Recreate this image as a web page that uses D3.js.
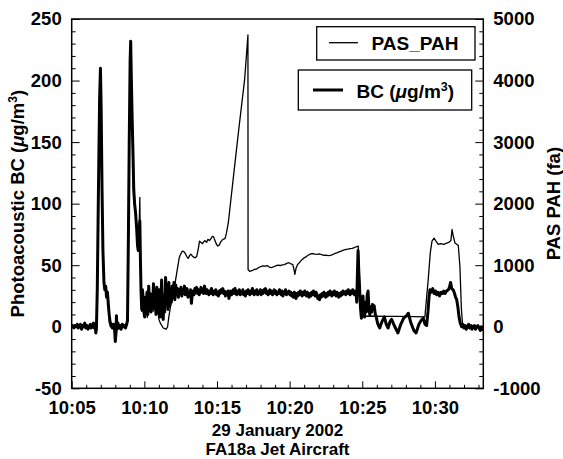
<!DOCTYPE html>
<html>
<head>
<meta charset="utf-8">
<script src="https://cdn.jsdelivr.net/npm/d3@7"></script>
<style>
  html, body { margin: 0; padding: 0; background: #fff; }
  svg { display: block; font-family: "Liberation Sans", Arial, Helvetica, sans-serif; font-weight: bold; }
</style>
</head>
<body>
<svg id="chart" width="563" height="459"></svg>
<script>
// Time is in minutes past 10:00 on 29 January 2002.
const xTickMinutes = [5, 10, 15, 20, 25, 30];
const xTickLabels = ["10:05", "10:10", "10:15", "10:20", "10:25", "10:30"];
const leftTicks = [-50, 0, 50, 100, 150, 200, 250];
const rightTicks = [-1000, 0, 1000, 2000, 3000, 4000, 5000];

// Photoacoustic black carbon, µg/m3: [minute, value]
const bcSeries = [
  [5.00,0],[5.08,1],[5.15,-1],[5.22,1],[5.30,0],[5.38,2],[5.45,-1],[5.52,0],[5.60,2],[5.68,-2],
  [5.75,1],[5.82,0],[5.90,3],[5.97,-1],[6.05,1],[6.12,-2],[6.20,0],[6.28,2],[6.35,-1],[6.42,1],
  [6.50,3],[6.56,-1],[6.62,1],[6.66,-5],[6.70,-2],[6.76,30],[6.84,110],[6.92,185],[6.98,210],
  [7.03,175],[7.09,110],[7.15,62],[7.22,36],[7.28,30],[7.34,33],[7.40,24],[7.46,28],[7.52,18],
  [7.58,10],[7.64,4],[7.72,2],[7.80,-1],[7.88,2],[7.95,-2],[8.00,-12],[8.05,-5],[8.08,9],[8.12,-2],
  [8.18,3],[8.25,-1],[8.32,1],[8.40,-2],[8.48,2],[8.55,0],[8.62,1],[8.70,-1],[8.78,2],[8.84,5],
  [8.90,70],[8.96,150],[9.02,215],[9.06,232],[9.10,205],[9.16,170],[9.22,140],[9.27,112],[9.33,100],
  [9.40,92],[9.47,80],[9.53,66],[9.58,62],[9.64,75],[9.69,86],[9.73,55],[9.77,30],[9.82,14],
  [9.87,30],[9.93,22],[9.97,12],[10.02,8],[10.07,24],[10.12,15],[10.18,28],[10.24,10],[10.30,33],
  [10.35,18],[10.40,27],[10.46,12],[10.52,25],[10.58,20],[10.63,35],[10.69,15],[10.75,28],[10.80,10],
  [10.86,32],[10.92,20],[10.97,11],[11.02,30],[11.08,8],[11.14,22],[11.19,38],[11.24,10],[11.30,6],
  [11.35,26],[11.40,12],[11.46,40],[11.52,22],[11.58,30],[11.63,14],[11.69,36],[11.75,17],[11.80,28],
  [11.86,20],[11.92,33],[11.98,24],[12.04,36],[12.10,22],[12.16,34],[12.22,26],[12.28,31],[12.34,24],
  [12.40,30],[12.46,27],[12.52,32],[12.58,25],[12.64,30],[12.70,27],[12.76,33],[12.82,26],[12.88,29],
  [12.94,31],[13.00,24],[13.06,28],[13.12,25],[13.18,30],[13.24,19],[13.30,27],[13.36,29],[13.42,26],
  [13.48,31],[13.54,28],[13.60,32],[13.66,27],[13.72,30],[13.78,26],[13.84,29],[13.90,32],[13.96,28],
  [14.02,30],[14.08,27],[14.14,33],[14.20,29],[14.26,27],[14.32,30],[14.38,28],[14.44,26],[14.50,29],
  [14.56,27],[14.62,31],[14.68,28],[14.74,26],[14.80,29],[14.86,27],[14.92,30],[14.98,26],[15.04,28],
  [15.10,25],[15.16,29],[15.22,27],[15.28,30],[15.34,28],[15.40,31],[15.46,27],[15.52,29],[15.58,25],
  [15.64,28],[15.70,26],[15.76,29],[15.82,23],[15.88,27],[15.94,29],[16.00,26],[16.06,28],[16.12,30],
  [16.18,27],[16.24,31],[16.30,28],[16.36,26],[16.42,29],[16.48,27],[16.54,30],[16.60,26],[16.66,28],
  [16.72,27],[16.78,30],[16.84,26],[16.90,28],[16.96,25],[17.02,29],[17.08,27],[17.14,30],[17.20,28],
  [17.26,26],[17.32,29],[17.38,27],[17.44,31],[17.50,28],[17.56,26],[17.62,29],[17.68,27],[17.74,30],
  [17.80,26],[17.86,28],[17.92,27],[17.98,30],[18.04,26],[18.10,29],[18.16,27],[18.22,30],[18.28,28],
  [18.34,31],[18.40,27],[18.46,29],[18.52,26],[18.58,28],[18.64,30],[18.70,27],[18.76,29],[18.82,26],
  [18.88,28],[18.94,30],[19.00,27],[19.06,29],[19.12,26],[19.18,28],[19.24,27],[19.30,30],[19.36,28],
  [19.42,26],[19.48,29],[19.54,25],[19.60,28],[19.66,27],[19.72,30],[19.78,26],[19.84,28],[19.90,27],
  [19.96,29],[20.02,26],[20.08,28],[20.14,25],[20.20,27],[20.26,24],[20.32,28],[20.38,26],[20.44,23],
  [20.50,27],[20.56,25],[20.62,28],[20.68,26],[20.74,29],[20.80,27],[20.86,25],[20.92,28],[20.98,26],
  [21.04,29],[21.10,27],[21.16,25],[21.22,28],[21.28,26],[21.34,24],[21.40,27],[21.46,25],[21.52,28],
  [21.58,26],[21.64,29],[21.70,27],[21.76,25],[21.82,28],[21.88,26],[21.94,23],[22.00,25],[22.06,22],
  [22.12,26],[22.18,24],[22.24,27],[22.30,25],[22.36,28],[22.42,26],[22.48,24],[22.54,27],[22.60,25],
  [22.66,28],[22.72,26],[22.78,29],[22.84,27],[22.90,25],[22.96,28],[23.02,26],[23.08,29],[23.14,27],
  [23.20,25],[23.26,28],[23.32,26],[23.38,24],[23.44,27],[23.50,25],[23.56,28],[23.62,26],[23.68,29],
  [23.74,27],[23.80,28],[23.86,26],[23.92,29],[23.98,27],[24.04,30],[24.10,28],[24.16,26],[24.22,29],
  [24.28,27],[24.34,30],[24.40,28],[24.46,26],[24.52,29],[24.58,27],[24.62,20],[24.66,40],[24.71,62],
  [24.76,45],[24.82,30],[24.88,15],[24.94,7],[25.00,18],[25.05,25],[25.10,12],[25.16,8],[25.22,20],
  [25.28,12],[25.34,26],[25.40,29],[25.46,14],[25.52,10],[25.58,16],[25.64,12],[25.70,18],[25.76,14],
  [25.82,17],[25.90,10],[25.98,7],[26.05,3],[26.12,1],[26.20,-1],[26.35,4],[26.52,8],[26.65,2],
  [26.78,-1],[26.90,4],[27.02,6],[27.20,1],[27.45,-5],[27.65,2],[27.85,7],[28.05,9],[28.17,11],
  [28.35,3],[28.55,-3],[28.70,-5],[28.90,2],[29.05,5],[29.20,7],[29.32,2],[29.43,1],[29.52,12],
  [29.60,25],[29.66,30],[29.75,28],[29.85,31],[29.95,27],[30.05,29],[30.12,26],[30.22,28],[30.32,25],
  [30.42,28],[30.52,27],[30.60,29],[30.70,27],[30.80,29],[30.92,30],[31.00,32],[31.08,36],[31.15,31],
  [31.26,30],[31.35,27],[31.42,24],[31.50,22],[31.58,16],[31.66,8],[31.74,3],[31.84,0],[31.92,2],
  [32.00,-1],[32.08,1],[32.16,-2],[32.24,0],[32.32,2],[32.40,-1],[32.48,1],[32.56,-2],[32.64,0],
  [32.72,1],[32.80,-2],[32.88,0],[32.96,1],[33.04,-1],[33.12,-3],[33.20,0],[33.28,-2],[33.33,-3]
];

// PAS PAH signal, fa: [minute, value]
const pahSeries = [
  [5.00,0],[5.15,-20],[5.30,20],[5.45,-10],[5.60,30],[5.75,0],[5.90,40],[6.05,-10],[6.20,20],[6.35,0],
  [6.50,40],[6.62,20],[6.66,-80],[6.70,-30],[6.76,500],[6.84,2100],[6.92,3600],[6.98,4180],[7.03,3500],
  [7.09,2300],[7.15,1300],[7.22,700],[7.30,620],[7.38,600],[7.46,560],[7.52,520],[7.56,200],[7.60,60],
  [7.66,0],[7.75,20],[7.85,-20],[7.95,0],[8.00,-150],[8.05,-60],[8.08,120],[8.15,0],[8.25,20],
  [8.40,-20],[8.55,10],[8.70,-10],[8.80,30],[8.84,80],[8.90,1300],[8.96,2900],[9.02,4250],[9.06,4600],
  [9.10,4100],[9.16,3400],[9.22,2700],[9.27,2000],[9.33,2050],[9.40,1850],[9.47,1650],[9.53,1300],
  [9.58,1250],[9.64,1600],[9.69,2100],[9.73,1100],[9.77,600],[9.82,250],[9.90,400],[10.00,200],
  [10.10,350],[10.20,150],[10.30,450],[10.40,300],[10.50,500],[10.60,250],[10.70,400],[10.80,200],
  [10.90,350],[11.00,120],[11.10,60],[11.20,20],[11.30,-20],[11.40,-30],[11.50,-40],[11.60,0],
  [11.68,150],[11.80,330],[11.95,500],[12.12,714],[12.28,950],[12.40,1120],[12.50,1180],[12.62,1230],
  [12.72,1220],[12.82,1190],[12.92,1140],[13.02,1110],[13.12,1160],[13.20,1180],[13.30,1150],
  [13.40,1130],[13.50,1120],[13.60,1140],[13.70,1250],[13.80,1390],[13.90,1370],[14.00,1350],
  [14.08,1380],[14.18,1400],[14.28,1370],[14.38,1420],[14.48,1400],[14.58,1430],[14.68,1470],
  [14.76,1460],[14.86,1400],[14.96,1340],[15.06,1310],[15.16,1330],[15.26,1380],[15.40,1420],
  [15.55,1430],[15.65,1520],[15.78,1690],[16.10,2370],[16.50,3210],[16.90,4010],[17.13,4740],
  [17.14,930],[17.25,900],[17.40,910],[17.55,930],[17.70,935],[17.85,960],[18.00,975],[18.15,990],
  [18.30,985],[18.45,995],[18.60,970],[18.75,960],[18.90,975],[19.05,990],[19.20,1000],[19.35,995],
  [19.50,1005],[19.65,1010],[19.80,1030],[19.95,1040],[20.10,1020],[20.22,1010],[20.30,930],
  [20.36,850],[20.44,950],[20.55,1010],[20.70,1050],[20.85,1090],[21.00,1120],[21.15,1140],
  [21.30,1165],[21.45,1185],[21.60,1190],[21.75,1180],[21.90,1175],[22.05,1185],[22.20,1170],
  [22.35,1160],[22.50,1165],[22.65,1155],[22.80,1160],[22.95,1170],[23.10,1190],[23.25,1200],
  [23.40,1215],[23.55,1230],[23.70,1245],[23.85,1255],[24.00,1260],[24.15,1270],[24.30,1275],
  [24.45,1285],[24.60,1300],[24.72,1310],[24.76,1100],[24.82,700],[24.90,350],[24.96,200],[25.03,170],
  [25.50,175],[26.50,170],[27.50,168],[28.50,165],[29.31,162],[29.40,400],[29.54,770],[29.68,1200],
  [29.80,1390],[29.94,1440],[30.05,1400],[30.23,1340],[30.40,1350],[30.60,1340],[30.81,1360],
  [30.95,1370],[31.10,1400],[31.18,1580],[31.24,1500],[31.38,1360],[31.50,1340],[31.61,1320],
  [31.72,980],[31.82,300],[31.91,10],[32.00,-20],[32.20,10],[32.40,-30],[32.60,20],[32.80,-20],
  [33.00,0],[33.20,-40],[33.33,-20]
];

const svg = d3.select("#chart");
const plot = { left: 71.7, right: 483.3, top: 19, bottom: 388.3 };

const x = d3.scaleLinear().domain([5, 33.33]).range([plot.left, plot.right]);
const yBC = d3.scaleLinear().domain([-50, 250]).range([plot.bottom, plot.top]);
const yPAH = d3.scaleLinear().domain([-1000, 5000]).range([plot.bottom, plot.top]);

const FS = 18.5;
const plainNumber = d => String(d);   // keeps the ASCII hyphen for negatives

svg.append("clipPath").attr("id", "plot-clip")
  .append("rect")
  .attr("x", plot.left).attr("y", plot.top)
  .attr("width", plot.right - plot.left).attr("height", plot.bottom - plot.top);

// Series lines
const g = svg.append("g").attr("clip-path", "url(#plot-clip)");
g.append("path")
  .datum(pahSeries)
  .attr("fill", "none").attr("stroke", "#000").attr("stroke-width", 1.3)
  .attr("stroke-linejoin", "round")
  .attr("d", d3.line().x(d => x(d[0])).y(d => yPAH(d[1])));
g.append("path")
  .datum(bcSeries)
  .attr("fill", "none").attr("stroke", "#000").attr("stroke-width", 3)
  .attr("stroke-linejoin", "round")
  .attr("d", d3.line().x(d => x(d[0])).y(d => yBC(d[1])));

function styleAxis(sel, withText) {
  sel.select(".domain").remove();
  sel.selectAll(".tick line").attr("stroke", "#000").attr("stroke-width", 1);
  if (withText) {
    sel.selectAll(".tick text")
      .attr("fill", "#000")
      .style("font-size", FS + "px")
      .style("font-weight", "bold")
      .style("font-family", "'Liberation Sans', Arial, sans-serif");
  } else {
    sel.selectAll(".tick text").remove();
  }
}

// Left axis (BC)
const leftMinor = d3.range(-50, 251, 10).filter(v => v % 50 !== 0);
svg.append("g").attr("transform", `translate(${plot.left},0)`)
  .call(d3.axisLeft(yBC).tickValues(leftMinor).tickSize(-4).tickFormat(""))
  .call(s => styleAxis(s, false));
svg.append("g").attr("transform", `translate(${plot.left},0)`)
  .call(d3.axisLeft(yBC).tickValues(leftTicks).tickSize(-8).tickPadding(10).tickFormat(plainNumber))
  .call(s => styleAxis(s, true));

// Right axis (PAH)
const rightMinor = d3.range(-1000, 5001, 200).filter(v => v % 1000 !== 0);
svg.append("g").attr("transform", `translate(${plot.right},0)`)
  .call(d3.axisRight(yPAH).tickValues(rightMinor).tickSize(-4).tickFormat(""))
  .call(s => styleAxis(s, false));
svg.append("g").attr("transform", `translate(${plot.right},0)`)
  .call(d3.axisRight(yPAH).tickValues(rightTicks).tickSize(-8).tickPadding(10).tickFormat(plainNumber))
  .call(s => styleAxis(s, true));

// Bottom axis (time)
const xMinor = d3.range(6, 34, 1).filter(v => v % 5 !== 0);
svg.append("g").attr("transform", `translate(0,${plot.bottom})`)
  .call(d3.axisBottom(x).tickValues(xMinor).tickSize(-3.5).tickFormat(""))
  .call(s => styleAxis(s, false));
svg.append("g").attr("transform", `translate(0,${plot.bottom})`)
  .call(d3.axisBottom(x).tickValues(xTickMinutes).tickSize(-7).tickPadding(13)
    .tickFormat((d, i) => xTickLabels[i]))
  .call(s => styleAxis(s, true));

// Frame
svg.append("rect")
  .attr("x", plot.left).attr("y", plot.top)
  .attr("width", plot.right - plot.left).attr("height", plot.bottom - plot.top)
  .attr("fill", "none").attr("stroke", "#000").attr("stroke-width", 1.5);

// Axis titles
const midY = (plot.top + plot.bottom) / 2;
const leftTitle = svg.append("text")
  .attr("transform", `translate(24,${midY}) rotate(-90)`)
  .attr("text-anchor", "middle")
  .style("font-size", "18.5px");
leftTitle.append("tspan").text("Photoacoustic BC (");
leftTitle.append("tspan").style("font-style", "italic").text("\u03bc");
leftTitle.append("tspan").text("g/m");
leftTitle.append("tspan").attr("dy", -7).style("font-size", "12px").text("3");
leftTitle.append("tspan").attr("dy", 7).text(")");

svg.append("text")
  .attr("transform", `translate(560,${midY}) rotate(-90)`)
  .attr("text-anchor", "middle")
  .style("font-size", "18.5px")
  .text("PAS PAH (fa)");

// Date and source captions
const midX = (plot.left + plot.right) / 2;
svg.append("text").attr("x", midX).attr("y", 435.5).attr("text-anchor", "middle")
  .style("font-size", "17px").text("29 January 2002");
svg.append("text").attr("x", midX).attr("y", 455).attr("text-anchor", "middle")
  .style("font-size", "17px").text("FA18a Jet Aircraft");

// Legends
const leg1 = svg.append("g");
leg1.append("rect").attr("x", 316.7).attr("y", 26.7).attr("width", 158.3).attr("height", 33.3)
  .attr("fill", "#fff").attr("stroke", "#000").attr("stroke-width", 1.3);
leg1.append("line").attr("x1", 329).attr("x2", 358).attr("y1", 42.7).attr("y2", 42.7)
  .attr("stroke", "#000").attr("stroke-width", 1.3);
leg1.append("text").attr("x", 371.5).attr("y", 49.5).style("font-size", "19px").text("PAS_PAH");

const leg2 = svg.append("g");
leg2.append("rect").attr("x", 298.3).attr("y", 70).attr("width", 173.4).attr("height", 40)
  .attr("fill", "#fff").attr("stroke", "#000").attr("stroke-width", 1.3);
leg2.append("line").attr("x1", 313).attr("x2", 343).attr("y1", 90).attr("y2", 90)
  .attr("stroke", "#000").attr("stroke-width", 3);
const leg2Text = leg2.append("text").attr("x", 356.5).attr("y", 97.5).style("font-size", "19px");
leg2Text.append("tspan").text("BC (");
leg2Text.append("tspan").style("font-style", "italic").text("\u03bc");
leg2Text.append("tspan").text("g/m");
leg2Text.append("tspan").attr("dy", -7).style("font-size", "12.5px").text("3");
leg2Text.append("tspan").attr("dy", 7).text(")");
</script>
</body>
</html>
